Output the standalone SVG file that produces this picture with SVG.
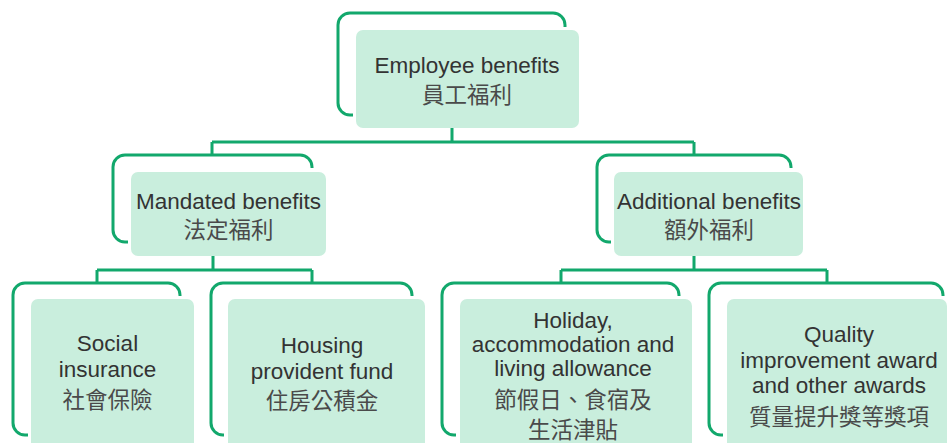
<svg xmlns="http://www.w3.org/2000/svg" width="949" height="443" viewBox="0 0 949 443">
<style>
.br{fill:none;stroke:#12a86c;stroke-width:3;stroke-linecap:butt;stroke-linejoin:round}
.fl{fill:#c9eedd}
.cn{fill:none;stroke:#12a86c;stroke-width:3}
.en{font-family:"Liberation Sans",Arial,sans-serif;font-size:22.5px;fill:#333;text-anchor:middle}
.zh{font-family:"Noto Sans CJK TC","Noto Sans CJK SC",sans-serif;font-size:22.5px;fill:#4a4a4a;text-anchor:middle}
</style>
<rect width="949" height="443" fill="#fff"/>
<g id="connectors">
<path class="cn" d="M452,128V142M212,142H694M212,142V155M694,142V155"/>
<path class="cn" d="M213,256V270M97,270H312M97,270V283M312,270V283"/>
<path class="cn" d="M694,256V270M561,270H827M561,270V283M827,270V283"/>
</g>
<g id="employee-benefits">
<path class="br" d="M353,115H350A12,12 0 0 1 338,103V25A12,12 0 0 1 350,13H553A12,12 0 0 1 565,25V27"/>
<rect class="fl" x="356" y="30" width="223" height="98" rx="7"/>
<text class="en" x="467" y="73">Employee benefits</text>
<text class="zh" x="467" y="103">員工福利</text>
</g>
<g id="mandated-benefits">
<path class="br" d="M128,242H125A12,12 0 0 1 113,230V167A12,12 0 0 1 125,155H300A12,12 0 0 1 312,167V168"/>
<rect class="fl" x="131" y="172" width="195" height="84" rx="7"/>
<text class="en" x="228.5" y="209">Mandated benefits</text>
<text class="zh" x="228.5" y="238">法定福利</text>
</g>
<g id="additional-benefits">
<path class="br" d="M611,242H609A12,12 0 0 1 597,230V167A12,12 0 0 1 609,155H779A12,12 0 0 1 791,167V168"/>
<rect class="fl" x="614" y="172" width="189" height="84" rx="7"/>
<text class="en" x="709" y="209">Additional benefits</text>
<text class="zh" x="709" y="238">額外福利</text>
</g>
<g id="social-insurance">
<path class="br" d="M28,435H25A12,12 0 0 1 13,423V295A12,12 0 0 1 25,283H168A12,12 0 0 1 180,295V296"/>
<rect class="fl" x="31" y="299" width="163" height="160" rx="7"/>
<text class="en" x="107.5" y="351">Social</text>
<text class="en" x="107.5" y="377">insurance</text>
<text class="zh" x="107.5" y="408">社會保險</text>
</g>
<g id="housing-provident-fund">
<path class="br" d="M224,435H223A12,12 0 0 1 211,423V295A12,12 0 0 1 223,283H400A12,12 0 0 1 412,295V296"/>
<rect class="fl" x="228" y="299" width="197" height="160" rx="7"/>
<text class="en" x="322" y="353">Housing</text>
<text class="en" x="322" y="379">provident fund</text>
<text class="zh" x="322" y="409">住房公積金</text>
</g>
<g id="holiday-allowance">
<path class="br" d="M456,435H454A12,12 0 0 1 442,423V295A12,12 0 0 1 454,283H667A12,12 0 0 1 679,295V296"/>
<rect class="fl" x="460" y="299" width="232" height="160" rx="7"/>
<text class="en" x="573" y="328">Holiday,</text>
<text class="en" x="573" y="352">accommodation and</text>
<text class="en" x="573" y="376">living allowance</text>
<text class="zh" x="573" y="408">節假日、食宿及</text>
<text class="zh" x="573" y="438">生活津貼</text>
</g>
<g id="quality-awards">
<path class="br" d="M723,435H721A12,12 0 0 1 709,423V295A12,12 0 0 1 721,283H931A12,12 0 0 1 943,295V296"/>
<rect class="fl" x="727" y="299" width="220" height="160" rx="7"/>
<text class="en" x="839" y="342">Quality</text>
<text class="en" x="839" y="368">improvement award</text>
<text class="en" x="839" y="393">and other awards</text>
<text class="zh" x="839" y="425">質量提升獎等獎項</text>
</g>
</svg>
